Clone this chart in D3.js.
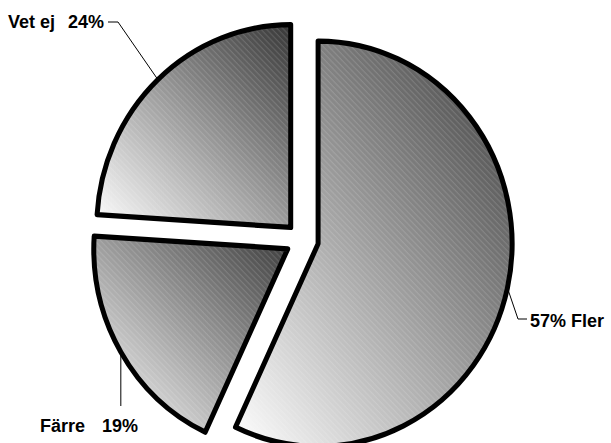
<!DOCTYPE html>
<html>
<head>
<meta charset="utf-8">
<script src="https://cdn.jsdelivr.net/npm/d3@7"></script>
<style>
  html, body { margin: 0; padding: 0; background: #fff; }
  svg { display: block; }
  text { font-family: "Liberation Sans", Arial, sans-serif; font-weight: bold; font-size: 18px; fill: #000; }
</style>
</head>
<body>
<svg id="chart" width="611" height="443"></svg>
<script>
// ---- data ----
const categories = ["Fler", "Färre", "Vet ej"];
const values = [57, 19, 24];
const pctLabels = ["57%", "19%", "24%"];

// ---- layout ----
const W = 611, H = 443;
const cx = 302, cy = 240, R = 194, sy = 1.045, explode = 16.5;

const svg = d3.select("#chart");
svg.append("rect").attr("width", W).attr("height", H).attr("fill", "#fff");

const defs = svg.append("defs");
const gradStops = [["#3a3a3a", "#ffffff"], ["#3a3a3a", "#ffffff"], ["#363636", "#ffffff"]];
categories.forEach((c, i) => {
  const g = defs.append("linearGradient").attr("id", "grad" + i)
    .attr("x1", 1).attr("y1", 0).attr("x2", 0).attr("y2", 1);
  g.append("stop").attr("offset", "0%").attr("stop-color", gradStops[i][0]);
  g.append("stop").attr("offset", "100%").attr("stop-color", gradStops[i][1]);
});
const pat = defs.append("pattern").attr("id", "hatch")
  .attr("patternUnits", "userSpaceOnUse").attr("width", 4).attr("height", 4)
  .attr("patternTransform", "rotate(-45)");
pat.append("line").attr("x1", 1).attr("y1", 0).attr("x2", 1).attr("y2", 4)
  .attr("stroke", "#fff").attr("stroke-opacity", 0.15).attr("stroke-width", 1);

const pie = d3.pie().sort(null).value(d => d);
const arcs = pie(values);
const arc = d3.arc().innerRadius(0).outerRadius(R);

const root = svg.append("g").attr("transform", `translate(${cx},${cy}) scale(1,${sy})`);

function offsetOf(d) {
  const m = (d.startAngle + d.endAngle) / 2;
  return [explode * Math.sin(m), -explode * Math.cos(m)];
}

const slices = root.selectAll("g.slice").data(arcs).enter().append("g")
  .attr("class", "slice")
  .attr("transform", d => { const o = offsetOf(d); return `translate(${o[0]},${o[1]})`; });
slices.append("path").attr("d", arc).attr("fill", (d, i) => `url(#grad${i})`);
slices.append("path").attr("d", arc).attr("fill", "url(#hatch)");
slices.append("path").attr("d", arc).attr("fill", "none")
  .attr("stroke", "#000").attr("stroke-width", 5).attr("stroke-linejoin", "round");

// screen point on a slice's outer arc at its mid-angle
function arcPoint(d) {
  const m = (d.startAngle + d.endAngle) / 2;
  const o = offsetOf(d);
  return [cx + o[0] + R * Math.sin(m), cy + sy * (o[1] - R * Math.cos(m))];
}

const labelG = svg.append("g");
const line = d3.line();

// Fler
{
  const p0 = arcPoint(arcs[0]);
  labelG.append("path").attr("d", line([p0, [518, 319], [527, 319]]))
    .attr("fill", "none").attr("stroke", "#000").attr("stroke-width", 1);
  labelG.append("text").attr("x", 530).attr("y", 327).text(pctLabels[0] + " " + categories[0]);
}
// Färre
{
  const p0 = arcPoint(arcs[1]);
  labelG.append("path").attr("d", line([p0, [p0[0], 406]]))
    .attr("fill", "none").attr("stroke", "#000").attr("stroke-width", 1);
  labelG.append("text").attr("x", 40).attr("y", 432).text(categories[1]);
  labelG.append("text").attr("x", 102).attr("y", 432).text(pctLabels[1]);
}
// Vet ej
{
  const p0 = arcPoint(arcs[2]);
  labelG.append("path").attr("d", line([p0, [118, 22], [108, 22]]))
    .attr("fill", "none").attr("stroke", "#000").attr("stroke-width", 1);
  labelG.append("text").attr("x", 8).attr("y", 28).text(categories[2]);
  labelG.append("text").attr("x", 68).attr("y", 28).text(pctLabels[2]);
}
</script>
</body>
</html>
